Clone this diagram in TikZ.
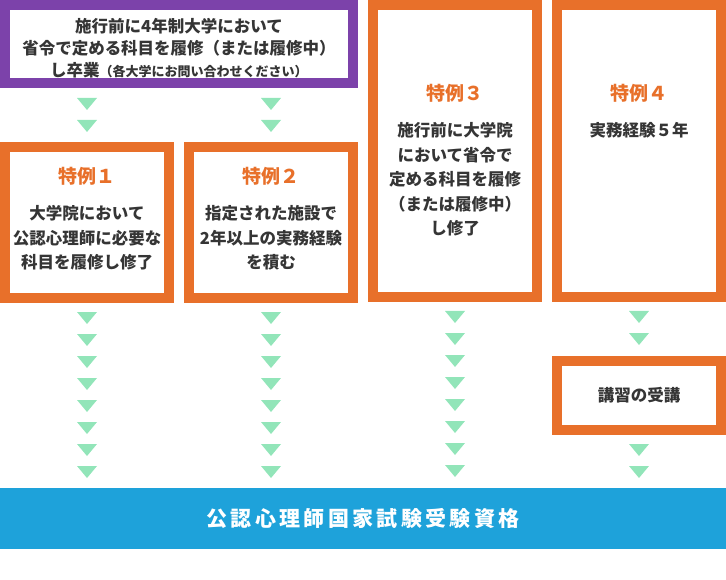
\documentclass[tikz,border=0pt]{standalone}
\usepackage{fontspec}
\setmainfont{Noto Sans CJK JP}
\newfontfamily\barfont{Noto Sans CJK JP}[LetterSpace=16]
\usepackage{tikz}
\usetikzlibrary{positioning,calc}
\definecolor{purp}{HTML}{7C42AA}
\definecolor{orng}{HTML}{E8702A}
\definecolor{grn}{HTML}{92E5B9}
\definecolor{blu}{HTML}{1EA2DA}
\definecolor{txt}{HTML}{353535}

\begin{document}
\begin{tikzpicture}[x=1pt, y=-1pt,
  box/.style={draw=orng, line width=10pt, fill=white, outer sep=0pt, inner sep=0pt,
              minimum width=164pt, align=center, text=txt,
              font=\bfseries\fontsize{16.5}{24.5}\selectfont},
  head/.style={text=orng, inner sep=0pt, font=\bfseries\fontsize{19}{20}\selectfont},
  body/.style={text=txt, inner sep=0pt, align=center,
               font=\bfseries\fontsize{16.5}{24.5}\selectfont},
  pics/tri/.style={code={\fill[grn] (-10,-6) -- (10,-6) -- (0,6) -- cycle;}}]
\useasboundingbox (0,0) rectangle (726,580);
\node[box, draw=purp, minimum width=348pt, minimum height=78pt] (pre) at (179,44) {};
\node[body, font=\bfseries\fontsize{16.5}{22}\selectfont] (t0) at ($(pre.center)+(0,4)$)
  {施行前に4年制大学において\\省令で定める科目を履修（または履修中）\\
   し卒業{\fontsize{13}{22}\selectfont（各大学にお問い合わせください）}};
\node[box, minimum height=151pt] (case1) at (87,222.5) {};
\node[box, minimum height=151pt, right=20pt of case1] (case2) {};
\node[box, minimum height=292pt, anchor=north west] (case3)
  at ($(pre.north east)+(20,0)$) {};
\node[box, minimum height=292pt, right=20pt of case3] (case4) {};
\node[box, minimum height=69pt, below=64pt of case4] (koshu) {講習の受講};
\node[fill=blu, text=white, inner sep=0pt, outer sep=0pt, minimum width=726pt,
      minimum height=61pt, anchor=north west, font=\barfont\bfseries\fontsize{21}{24}\selectfont]
  (qual) at (0,488) {公認心理師国家試験受験資格};

\node[head] (h1) at ($(case1.north)+(0,29)$) {特例１};
\node[body, below=20pt of h1] (b1) {大学院において\\公認心理師に必要な\\科目を履修し修了};
\node[head] (h2) at ($(case2.north)+(0,29)$) {特例２};
\node[body, below=20pt of h2] (b2) {指定された施設で\\2年以上の実務経験\\を積む};
\node[head] (h3) at ($(case3.north)+(0,88)$) {特例３};
\node[body, below=20pt of h3] (b3)
  {施行前に大学院\\において省令で\\定める科目を履修\\（または履修中）\\し修了};
\node[head] (h4) at ($(case4.north)+(0,88)$) {特例４};
\node[body, below=20pt of h4] (b4) {実務経験５年};

\foreach \dst in {case1,case2}
  \foreach \k in {0,1}
    \pic at ($(\dst.north)+(0,-43+22*\k)$) {tri};
\foreach \src/\n in {case1/7,case2/7,case3/7,case4/1,koshu/1}
  \foreach \k in {0,...,\n}
    \pic at ($(\src.south)+(0,20+22*\k)$) {tri};
\end{tikzpicture}
\end{document}
